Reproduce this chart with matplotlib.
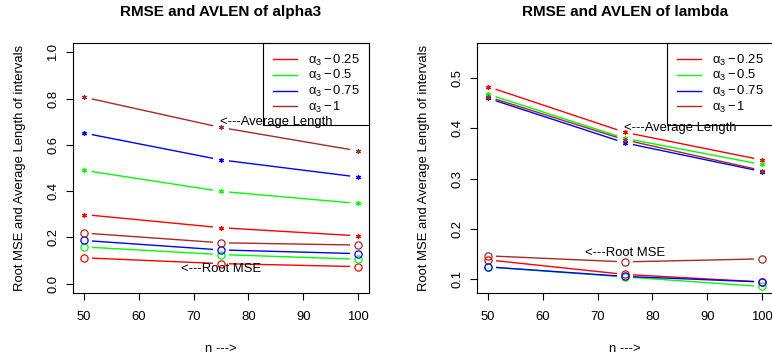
import matplotlib
matplotlib.use("Agg")
import matplotlib.pyplot as plt
import numpy as np

plt.rcParams['font.family'] = ['Liberation Sans', 'DejaVu Sans']
plt.rcParams['mathtext.fontset'] = 'custom'
plt.rcParams['mathtext.rm'] = 'Liberation Sans'
plt.rcParams['mathtext.it'] = 'Liberation Sans:italic'

# sample sizes
n = [50, 75, 100]
alpha3_levels = ["0.25", "0.5", "0.75", "1"]
colors = ["red", "#00ff00", "blue", "#a52a2a"]

# alpha3 panel: average length of intervals, root MSE
alpha3_avlen = [
    [0.299, 0.242, 0.207],
    [0.490, 0.399, 0.347],
    [0.651, 0.535, 0.461],
    [0.806, 0.675, 0.574],
]
alpha3_rmse = [
    [0.112, 0.087, 0.074],
    [0.159, 0.126, 0.106],
    [0.187, 0.146, 0.130],
    [0.219, 0.177, 0.167],
]

# lambda panel
lambda_avlen = [
    [0.483, 0.392, 0.337],
    [0.468, 0.380, 0.328],
    [0.460, 0.371, 0.314],
    [0.463, 0.377, 0.316],
]
lambda_rmse = [
    [0.138, 0.109, 0.094],
    [0.124, 0.104, 0.085],
    [0.124, 0.105, 0.094],
    [0.146, 0.134, 0.140],
]

FS = 9.4


def gapped_line(ax, x, y, color, gap_px=8):
    # mimic R type="b": line segments stop short of each point
    pts = ax.transData.transform(np.column_stack([x, y]))
    inv = ax.transData.inverted()
    gap = gap_px * ax.figure.dpi / 100
    for i in range(len(pts) - 1):
        a, b = pts[i], pts[i + 1]
        d = b - a
        L = np.hypot(*d)
        if L <= 2 * gap:
            continue
        u = d / L
        seg = inv.transform(np.array([a + u * gap, b - u * gap]))
        ax.plot(seg[:, 0], seg[:, 1], color=color, lw=1.0, solid_capstyle='butt')


def panel(ax, title, avlen, rmse, ylim, yticks, avlen_txt, rmse_txt):
    ax.set_xlim(48, 102)
    ax.set_ylim(*ylim)
    ax.set_xticks([50, 60, 70, 80, 90, 100])
    ax.set_yticks(yticks)
    ax.set_yticklabels([f"{t:.1f}" for t in yticks], rotation=90, va='center')
    ax.tick_params(length=5, width=0.8, labelsize=FS, pad=5)
    ax.tick_params(axis='x', pad=8)
    for s in ax.spines.values():
        s.set_linewidth(0.8)

    handles = []
    for i, c in enumerate(colors):
        gapped_line(ax, n, avlen[i], c)
        gapped_line(ax, n, rmse[i], c)
        ax.plot(n, avlen[i], ls='none', marker=(6, 2, 0), ms=3.5, mew=0.9, color=c)
        ax.plot(n, rmse[i], ls='none', marker='o', ms=5.2, mfc='none', mew=0.9, color=c)
        h, = ax.plot([], [], color=c, lw=1.0)
        handles.append(h)

    labels = [r"$\mathregular{\alpha_3 - %s}$" % lv for lv in alpha3_levels]
    leg = ax.legend(handles, labels, loc='upper right', borderaxespad=0,
                    fancybox=False, edgecolor='black', framealpha=1,
                    fontsize=FS, handlelength=1.9, handletextpad=0.8,
                    labelspacing=0.06, borderpad=0.72)
    leg.get_frame().set_linewidth(0.8)
    leg.get_frame().set_facecolor('none')

    ax.text(avlen_txt[0], avlen_txt[1], "<---Average Length", fontsize=FS,
            ha='center', va='center', zorder=6)
    ax.text(rmse_txt[0], rmse_txt[1], "<---Root MSE", fontsize=FS,
            ha='center', va='center', zorder=6)

    ax.text(0.5, 1.124, title, transform=ax.transAxes, fontsize=11,
            fontweight='bold', ha='center', va='center')
    ax.set_xlabel("n --->", fontsize=FS)
    ax.set_ylabel("Root MSE and Average Length of intervals", fontsize=FS)
    ax.xaxis.set_label_coords(0.5, -0.224)
    ax.yaxis.set_label_coords(-0.18, 0.5)
    ax.xaxis.label.set_va('center')
    ax.yaxis.label.set_va('center')


fig = plt.figure(figsize=(7.72, 3.6), dpi=100)
ax1 = fig.add_axes([73 / 772, 67 / 360, 296 / 772, 250 / 360])
ax2 = fig.add_axes([477 / 772, 67 / 360, 296 / 772, 250 / 360])

panel(ax1, "RMSE and AVLEN of alpha3", alpha3_avlen, alpha3_rmse,
      (-0.04, 1.04), [0.0, 0.2, 0.4, 0.6, 0.8, 1.0], (85, 0.70), (75, 0.064))
panel(ax2, "RMSE and AVLEN of lambda", lambda_avlen, lambda_rmse,
      (0.072, 0.57), [0.1, 0.2, 0.3, 0.4, 0.5], (85, 0.401), (75, 0.151))

fig.savefig("out.png", dpi=100)
